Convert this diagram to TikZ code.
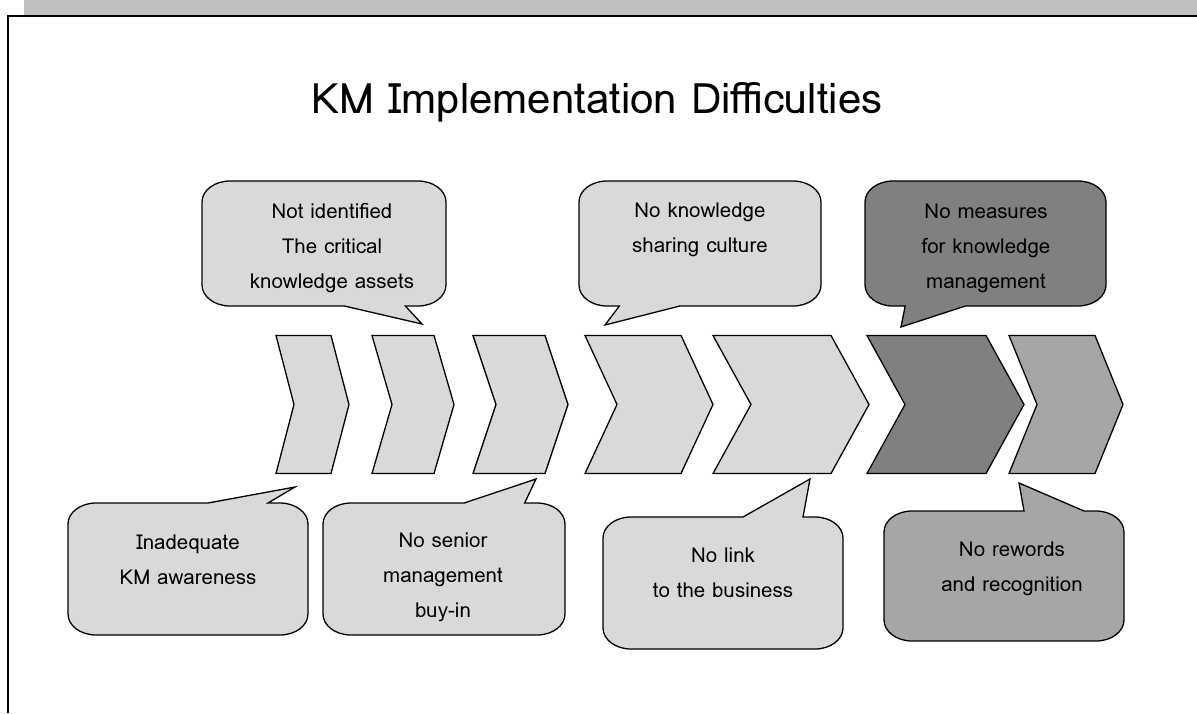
\documentclass[tikz,border=0pt]{standalone}
\usepackage{fontspec}
\setmainfont{Loma}
\usetikzlibrary{positioning}
\definecolor{lightbox}{HTML}{D9D9D9}
\definecolor{darkbox}{HTML}{808080}
\definecolor{midbox}{HTML}{A6A6A6}
\definecolor{bandgray}{HTML}{C0C0C0}
\tikzset{
  outline/.style={draw=black,line width=1.3pt,line join=miter},
  boxtext/.style={align=center,font=\fontsize{20.5}{35}\selectfont,inner sep=0pt}
}
% chevron: name, left x, top-right x, depth, fill
\newcommand{\chevron}[5]{%
  \draw[outline,fill=#5] (#2,335.5) -- (#3,335.5) -- (#3+#4,404.5) -- (#3,473.5)
    -- (#2,473.5) -- (#2+#4,404.5) -- cycle;
  \coordinate (#1) at ({(#2+#3+#4)/2},404.5);
}
% callout, pointer on the bottom edge: fill, left, top, width, height, tip, first twelfth
\newcommand{\calloutdown}[7]{%
  \pgfmathsetmacro{\cbl}{#2}\pgfmathsetmacro{\cbr}{#2+#4}
  \pgfmathsetmacro{\cbt}{#3}\pgfmathsetmacro{\cbb}{#3+#5}
  \pgfmathsetmacro{\cpa}{#2+#4*#7/12}\pgfmathsetmacro{\cpb}{#2+#4*(#7+3)/12}
  \draw[outline,fill=#1] (\cbl+28,\cbt) -- (\cbr-28,\cbt) arc[start angle=-90,end angle=0,x radius=28,y radius=21]
    -- (\cbr,\cbb-21) arc[start angle=0,end angle=90,x radius=28,y radius=21]
    -- (\cpb,\cbb) -- #6 -- (\cpa,\cbb)
    -- (\cbl+28,\cbb) arc[start angle=90,end angle=180,x radius=28,y radius=21]
    -- (\cbl,\cbt+21) arc[start angle=180,end angle=270,x radius=28,y radius=21] -- cycle;
}
% callout, pointer on the top edge
\newcommand{\calloutup}[7]{%
  \pgfmathsetmacro{\cbl}{#2}\pgfmathsetmacro{\cbr}{#2+#4}
  \pgfmathsetmacro{\cbt}{#3}\pgfmathsetmacro{\cbb}{#3+#5}
  \pgfmathsetmacro{\cpa}{#2+#4*#7/12}\pgfmathsetmacro{\cpb}{#2+#4*(#7+3)/12}
  \draw[outline,fill=#1] (\cbl+28,\cbt) -- (\cpa,\cbt) -- #6 -- (\cpb,\cbt)
    -- (\cbr-28,\cbt) arc[start angle=-90,end angle=0,x radius=28,y radius=21]
    -- (\cbr,\cbb-21) arc[start angle=0,end angle=90,x radius=28,y radius=21]
    -- (\cbl+28,\cbb) arc[start angle=90,end angle=180,x radius=28,y radius=21]
    -- (\cbl,\cbt+21) arc[start angle=180,end angle=270,x radius=28,y radius=21] -- cycle;
}

\begin{document}
\begin{tikzpicture}[x=1pt,y=-1pt]
  \useasboundingbox (0,0) rectangle (1197,713);
  % slide frame
  \fill[bandgray] (24,0) rectangle (1197,15.5);
  \draw[line width=1.8pt] (8,713) -- (8,16) -- (1197,16);

  \node (title) at (597,102) {\fontsize{42}{46}\selectfont KM Implementation Difficulties};

  % the chain
  \chevron{c1}{276}{331}{18}{lightbox}
  \chevron{c2}{372}{434}{20}{lightbox}
  \chevron{c3}{473}{545}{23}{lightbox}
  \chevron{c4}{585}{681}{32}{lightbox}
  \chevron{c5}{713}{831}{38}{lightbox}
  \chevron{c6}{867}{986}{38}{darkbox}
  \chevron{c7}{1009}{1095}{28}{midbox}

  % pointer tips
  \coordinate (tipa) at (422,324);
  \coordinate (tipb) at (605,325);
  \coordinate (tipc) at (901,327);
  \coordinate (tipd) at (295,487);
  \coordinate (tipe) at (536,479);
  \coordinate (tipf) at (810,479);
  \coordinate (tipg) at (1019,483);

  \calloutdown{lightbox}{202}{181}{244}{125}{(tipa)}{7}
  \calloutdown{lightbox}{579}{181}{242}{125}{(tipb)}{2}
  \calloutdown{darkbox}{865}{181}{241}{125}{(tipc)}{2}
  \calloutup{lightbox}{68}{503}{240}{132}{(tipd)}{7}
  \calloutup{lightbox}{323}{503}{242}{132}{(tipe)}{7}
  \calloutup{lightbox}{603}{517}{240}{132}{(tipf)}{7}
  \calloutup{midbox}{884}{511}{240}{130}{(tipg)}{7}

  \node[boxtext] (notid) at (332,248) {Not identified\\The critical\\knowledge assets};
  \node[boxtext] (noshare) at (700,230) {No knowledge\\sharing culture};
  \node[boxtext] (nomeasure) at (986,248) {No measures\\for knowledge\\management};
  \node[boxtext] (aware) at (188,560) {Inadequate\\KM awareness};
  \node[boxtext] (buyin) at (443,577) {No senior\\management\\buy-in};
  \node[boxtext] (nolink) at (723,573) {No link\\to the business};
  \node[boxtext] (reward) at (1012,569) {No rewords\\and recognition};
\end{tikzpicture}
\end{document}
